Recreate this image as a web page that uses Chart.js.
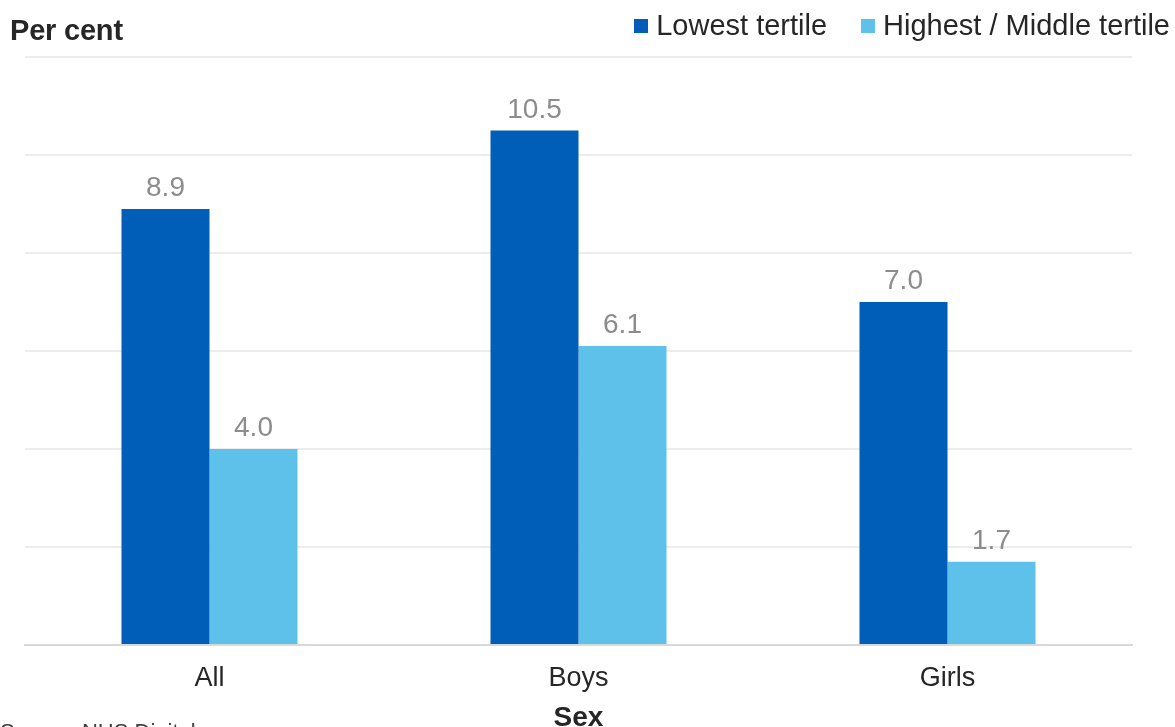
<!DOCTYPE html>
<html lang="en">
<head>
    <meta charset="UTF-8">
    <title>Per cent by tertile and sex</title>
    <script src="https://cdn.jsdelivr.net/npm/chart.js"></script>
    <style>
        body { margin: 0; padding: 0; background: white; font-family: 'Liberation Sans', Arial, sans-serif; overflow: hidden; width: 1175px; height: 727px; position: relative; }
        .wrap { position: absolute; left: 0; top: 0; width: 1175px; height: 735px; }
        .unit { position: absolute; left: 10px; top: 14px; font-size: 29px; font-weight: bold; color: #262626; letter-spacing: -0.2px; }
        .legend { position: absolute; right: 5px; top: 9px; font-size: 29px; color: #262626; display: flex; align-items: center; }
        .legend span.box { display: inline-block; width: 14px; height: 14px; margin-right: 8px; }
        .legend .item { display: flex; align-items: center; margin-left: 34px; }
        .source { position: absolute; left: 0; top: 721px; font-size: 22px; line-height: 1; color: #404040; }
    </style>
</head>
<body>
    <div class="wrap"><canvas id="barChart"></canvas></div>
    <div class="unit">Per cent</div>
    <div class="legend" id="legend"></div>
    <div class="source">Source: NHS Digital</div>

    <script>
        let categories = ["All", "Boys", "Girls"];
        let seriesNames = ["Lowest tertile", "Highest / Middle tertile"];
        let lowest = [8.9, 10.5, 7.0];
        let highestMiddle = [4.0, 6.1, 1.7];
        let colours = ["#005EB8", "#5EC1EA"];

        // legend in html
        let legend = document.getElementById("legend");
        seriesNames.forEach((name, i) => {
            let item = document.createElement("div");
            item.className = "item";
            item.innerHTML = `<span class="box" style="background:${colours[i]}"></span>${name}`;
            legend.appendChild(item);
        });

        // value labels above bars
        const valueLabels = {
            id: "valueLabels",
            afterDatasetsDraw(chart) {
                let ctx = chart.ctx;
                ctx.save();
                ctx.font = "28px 'Liberation Sans', Arial, sans-serif";
                ctx.fillStyle = "#8c8c8c";
                ctx.textAlign = "center";
                ctx.textBaseline = "alphabetic";
                chart.data.datasets.forEach((ds, i) => {
                    chart.getDatasetMeta(i).data.forEach((bar, j) => {
                        ctx.fillText(ds.data[j].toFixed(1), bar.x, bar.y - 13);
                    });
                });
                ctx.restore();
            }
        };

        let barChart = new Chart(document.getElementById("barChart").getContext("2d"), {
            type: "bar",
            data: {
                labels: categories,
                datasets: [
                    { label: seriesNames[0], data: lowest, backgroundColor: colours[0] },
                    { label: seriesNames[1], data: highestMiddle, backgroundColor: colours[1] }
                ]
            },
            options: {
                responsive: true,
                maintainAspectRatio: false,
                animation: false,
                categoryPercentage: 0.477,
                barPercentage: 1.0,
                layout: { padding: { left: 25, right: 43, top: 57, bottom: 0 } },
                plugins: {
                    legend: { display: false },
                    tooltip: { enabled: false }
                },
                scales: {
                    x: {
                        grid: { display: false, drawTicks: false },
                        border: { display: true, color: "#d9d9d9", width: 2 },
                        ticks: { color: "#262626", font: { size: 27, family: "'Liberation Sans', Arial, sans-serif" }, padding: 17 },
                        title: { display: true, text: "Sex", color: "#262626", font: { size: 28, weight: "bold", family: "'Liberation Sans', Arial, sans-serif" }, padding: { top: -10, bottom: 0 } }
                    },
                    y: {
                        min: 0,
                        max: 12,
                        ticks: { display: false, stepSize: 2 },
                        grid: { color: "#ececec", lineWidth: 2, drawTicks: false },
                        border: { display: false }
                    }
                }
            },
            plugins: [valueLabels]
        });
    </script>
</body>
</html>
